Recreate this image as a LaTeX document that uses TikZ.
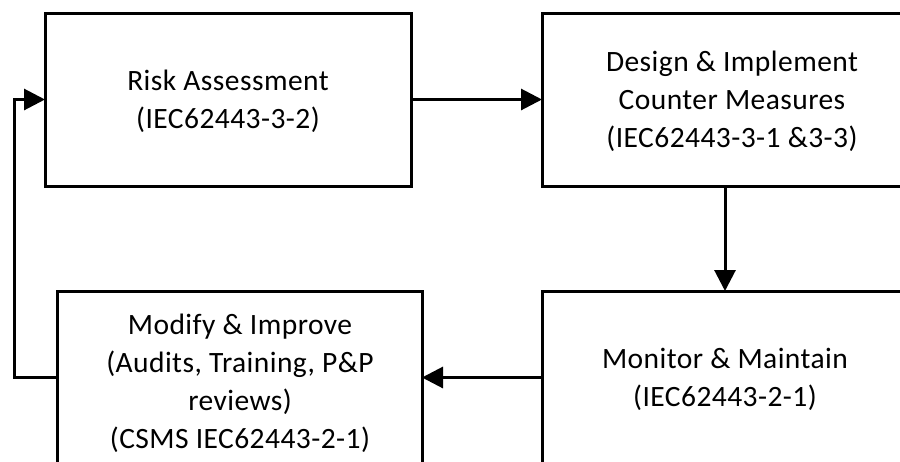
\documentclass[tikz,border=0pt]{standalone}
\usepackage{fontspec}
\setmainfont{Carlito}[LetterSpace=1.5]
\usetikzlibrary{arrows.meta}
\begin{document}
\begin{tikzpicture}[x=1pt,y=-1pt,
  box/.style={draw=black, line width=3pt, minimum width=366pt, minimum height=173pt, inner sep=0pt, outer sep=0pt},
  txt/.style={align=center, font=\fontsize{29.5}{38}\selectfont, inner sep=0pt},
  flow/.style={line width=3pt, -{Triangle[length=21pt,width=21pt]}}]
  \useasboundingbox (0,0) rectangle (900,461);
  \clip (0,0) rectangle (900,461);
  % process boxes
  \node[box] (risk)    at (228,99.5)    {};
  \node[box] (design)  at (725,99.5)    {};
  \node[box] (monitor) at (725,377.5)   {};
  \node[box, minimum width=365pt] (modify) at (239.5,377.5) {};
  % box captions
  \node[txt] (riskt)    at (228,101)  {Risk Assessment\\(IEC62443-3-2)};
  \node[txt] (designt)  at (732,101.5)  {Design \& Implement\\Counter Measures\\(IEC62443-3-1 \&3-3)};
  \node[txt] (monitort) at (725,379)  {Monitor \& Maintain\\(IEC62443-2-1)};
  \node[txt] (modifyt)  at (240,383)  {Modify \& Improve\\(Audits, Training, P\&P\\reviews)\\(CSMS IEC62443-2-1)};
  % cycle connectors
  \draw[flow] (risk.east) -- (design.west);
  \draw[flow] (design.south) -- (monitor.north);
  \draw[flow] (monitor.west) -- (modify.east);
  \draw[flow] (modify.west) -- ++(-43,0) |- (risk.west);
\end{tikzpicture}
\end{document}
